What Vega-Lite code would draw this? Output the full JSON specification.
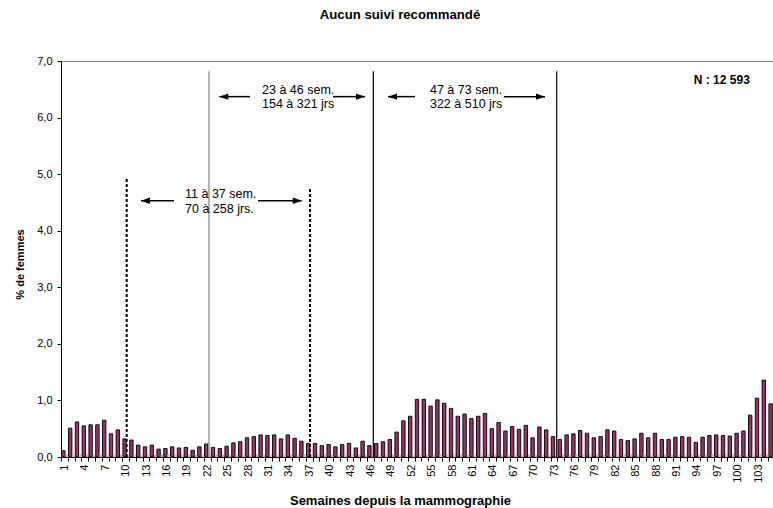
{
  "$schema": "https://vega.github.io/schema/vega-lite/v6.json",
  "width": 714,
  "height": 396,
  "autosize": "none",
  "padding": {"left": 61, "top": 61, "right": 0, "bottom": 51},
  "background": "white",
  "view": {"stroke": "#808080", "strokeWidth": 1},
  "config": {"font": "Liberation Sans"},
  "title": {"text": "Aucun suivi recommandé", "fontSize": 13.2, "fontWeight": "bold", "font": "Liberation Sans", "color": "black", "baseline": "middle", "offset": 27, "dx": -18, "anchor": "middle"},
  "datasets": {
    "bars": [
      {"x":1,"y":0.11},{"x":2,"y":0.51},{"x":3,"y":0.62},{"x":4,"y":0.55},{"x":5,"y":0.57},
      {"x":6,"y":0.57},{"x":7,"y":0.65},{"x":8,"y":0.41},{"x":9,"y":0.48},{"x":10,"y":0.32},
      {"x":11,"y":0.30},{"x":12,"y":0.21},{"x":13,"y":0.18},{"x":14,"y":0.21},{"x":15,"y":0.14},
      {"x":16,"y":0.15},{"x":17,"y":0.18},{"x":18,"y":0.16},{"x":19,"y":0.17},{"x":20,"y":0.12},
      {"x":21,"y":0.18},{"x":22,"y":0.23},{"x":23,"y":0.17},{"x":24,"y":0.15},{"x":25,"y":0.19},
      {"x":26,"y":0.25},{"x":27,"y":0.27},{"x":28,"y":0.34},{"x":29,"y":0.36},{"x":30,"y":0.39},
      {"x":31,"y":0.38},{"x":32,"y":0.39},{"x":33,"y":0.32},{"x":34,"y":0.39},{"x":35,"y":0.33},
      {"x":36,"y":0.28},{"x":37,"y":0.24},{"x":38,"y":0.24},{"x":39,"y":0.20},{"x":40,"y":0.22},
      {"x":41,"y":0.18},{"x":42,"y":0.22},{"x":43,"y":0.24},{"x":44,"y":0.16},{"x":45,"y":0.28},
      {"x":46,"y":0.20},{"x":47,"y":0.24},{"x":48,"y":0.27},{"x":49,"y":0.31},{"x":50,"y":0.44},
      {"x":51,"y":0.64},{"x":52,"y":0.72},{"x":53,"y":1.02},{"x":54,"y":1.02},{"x":55,"y":0.90},
      {"x":56,"y":1.01},{"x":57,"y":0.95},{"x":58,"y":0.86},{"x":59,"y":0.72},{"x":60,"y":0.76},
      {"x":61,"y":0.68},{"x":62,"y":0.72},{"x":63,"y":0.77},{"x":64,"y":0.50},{"x":65,"y":0.61},
      {"x":66,"y":0.46},{"x":67,"y":0.54},{"x":68,"y":0.49},{"x":69,"y":0.56},{"x":70,"y":0.34},
      {"x":71,"y":0.53},{"x":72,"y":0.48},{"x":73,"y":0.36},{"x":74,"y":0.31},{"x":75,"y":0.39},
      {"x":76,"y":0.41},{"x":77,"y":0.47},{"x":78,"y":0.42},{"x":79,"y":0.34},{"x":80,"y":0.36},
      {"x":81,"y":0.48},{"x":82,"y":0.46},{"x":83,"y":0.31},{"x":84,"y":0.29},{"x":85,"y":0.32},
      {"x":86,"y":0.42},{"x":87,"y":0.34},{"x":88,"y":0.42},{"x":89,"y":0.31},{"x":90,"y":0.31},
      {"x":91,"y":0.35},{"x":92,"y":0.36},{"x":93,"y":0.35},{"x":94,"y":0.26},{"x":95,"y":0.35},
      {"x":96,"y":0.38},{"x":97,"y":0.39},{"x":98,"y":0.38},{"x":99,"y":0.37},{"x":100,"y":0.42},
      {"x":101,"y":0.46},{"x":102,"y":0.74},{"x":103,"y":1.04},{"x":104,"y":1.36},{"x":105,"y":0.94}
    ],
    "gray": [
      {"x":1,"y":0.05},{"x":2,"y":0.05},{"x":3,"y":0.05},{"x":4,"y":0.05},{"x":5,"y":0.05},{"x":6,"y":0.05},{"x":7,"y":0.05},{"x":8,"y":0.05},{"x":9,"y":0.05},{"x":10,"y":0.05},
      {"x":11,"y":0.05},{"x":12,"y":0.05},{"x":13,"y":0.05},{"x":14,"y":0.05},{"x":15,"y":0.05},{"x":16,"y":0.05},{"x":17,"y":0.05},{"x":18,"y":0.05},{"x":19,"y":0.05},{"x":20,"y":0.05},
      {"x":21,"y":0.05},{"x":22,"y":0.05},{"x":23,"y":0.05},{"x":24,"y":0.05},{"x":25,"y":0.05},{"x":26,"y":0.05},{"x":27,"y":0.05},{"x":28,"y":0.05},{"x":29,"y":0.05},{"x":30,"y":0.05},
      {"x":31,"y":0.05},{"x":32,"y":0.05},{"x":33,"y":0.05},{"x":34,"y":0.05},{"x":35,"y":0.05},{"x":36,"y":0.05},{"x":37,"y":0.05},{"x":38,"y":0.05},{"x":39,"y":0.05},{"x":40,"y":0.05},
      {"x":41,"y":0.05},{"x":42,"y":0.05},{"x":43,"y":0.05},{"x":44,"y":0.05},{"x":45,"y":0.05},{"x":46,"y":0.05},{"x":47,"y":0.05},{"x":48,"y":0.05},{"x":49,"y":0.05},{"x":50,"y":0.05},
      {"x":51,"y":0.05},{"x":52,"y":0.05},{"x":53,"y":0.05},{"x":54,"y":0.05},{"x":55,"y":0.05},{"x":56,"y":0.05},{"x":57,"y":0.05},{"x":58,"y":0.05},{"x":59,"y":0.05},{"x":60,"y":0.05},
      {"x":61,"y":0.05},{"x":62,"y":0.05},{"x":63,"y":0.05},{"x":64,"y":0.05},{"x":65,"y":0.05},{"x":66,"y":0.05},{"x":67,"y":0.05},{"x":68,"y":0.05},{"x":69,"y":0.05},{"x":70,"y":0.05},
      {"x":71,"y":0.05},{"x":72,"y":0.05},{"x":73,"y":0.05},{"x":74,"y":0.05},{"x":75,"y":0.05},{"x":76,"y":0.05},{"x":77,"y":0.05},{"x":78,"y":0.05},{"x":79,"y":0.05},{"x":80,"y":0.05},
      {"x":81,"y":0.05},{"x":82,"y":0.05},{"x":83,"y":0.05},{"x":84,"y":0.05},{"x":85,"y":0.05},{"x":86,"y":0.05},{"x":87,"y":0.05},{"x":88,"y":0.05},{"x":89,"y":0.05},{"x":90,"y":0.05},
      {"x":91,"y":0.05},{"x":92,"y":0.05},{"x":93,"y":0.05},{"x":94,"y":0.05},{"x":95,"y":0.05},{"x":96,"y":0.05},{"x":97,"y":0.05},{"x":98,"y":0.05},{"x":99,"y":0.05},{"x":100,"y":0.05},
      {"x":101,"y":0.05},{"x":102,"y":0.05},{"x":103,"y":0.05},{"x":104,"y":0.05},{"x":105,"y":0.05}
    ],
    "dashed": [
      {"x": 10.16, "y": 0, "y2": 4.95},
      {"x": 37.12, "y": 0, "y2": 4.75}
    ],
    "solid": [
      {"x": 22.26, "y": 0, "y2": 6.82, "c": "#808080"},
      {"x": 46.43, "y": 0, "y2": 6.82, "c": "#000000"},
      {"x": 73.40, "y": 0, "y2": 6.82, "c": "#000000"}
    ],
    "arrows": [
      {"x": 12.26, "x2": 17.12, "y": 4.53},
      {"x": 29.47, "x2": 35.9, "y": 4.53},
      {"x": 23.78, "x2": 28.29, "y": 6.37},
      {"x": 40.5, "x2": 45.2, "y": 6.37},
      {"x": 48.59, "x2": 52.56, "y": 6.37},
      {"x": 65.65, "x2": 71.68, "y": 6.37}
    ],
    "headsLeft": [
      {"x": 12.26, "y": 4.53},
      {"x": 23.78, "y": 6.37},
      {"x": 48.59, "y": 6.37}
    ],
    "headsRight": [
      {"x": 35.9, "y": 4.53},
      {"x": 45.2, "y": 6.37},
      {"x": 71.68, "y": 6.37}
    ],
    "labels": [
      {"x": 18.74, "y": 4.65, "t": "11 à 37 sem."},
      {"x": 18.74, "y": 4.38, "t": "70 à 258 jrs."},
      {"x": 30.06, "y": 6.49, "t": "23 à 46 sem."},
      {"x": 30.06, "y": 6.24, "t": "154 à 321 jrs"},
      {"x": 54.76, "y": 6.49, "t": "47 à 73 sem."},
      {"x": 54.76, "y": 6.24, "t": "322 à 510 jrs"}
    ],
    "note": [
      {"x": 101.8, "y": 6.66, "t": "N : 12 593"}
    ]
  },
  "encoding": {
    "x": {
      "field": "x", "type": "quantitative",
      "scale": {"domain": [0.5, 105.5], "nice": false, "zero": false, "padding": 0},
      "axis": {
        "title": "Semaines depuis la mammographie",
        "titleFont": "Liberation Sans", "titleFontSize": 13, "titleFontWeight": "bold", "titleColor": "black",
        "titleX": 339, "titleY": 43, "titleBaseline": "middle", "titleAnchor": "middle",
        "values": [1,2,3,4,5,6,7,8,9,10,11,12,13,14,15,16,17,18,19,20,21,22,23,24,25,26,27,28,29,30,31,32,33,34,35,36,37,38,39,40,41,42,43,44,45,46,47,48,49,50,51,52,53,54,55,56,57,58,59,60,61,62,63,64,65,66,67,68,69,70,71,72,73,74,75,76,77,78,79,80,81,82,83,84,85,86,87,88,89,90,91,92,93,94,95,96,97,98,99,100,101,102,103,104,105],
        "labelExpr": "(datum.value - 1) % 3 == 0 ? datum.label : ''",
        "labelAngle": -90, "labelFontSize": 11, "labelColor": "black", "labelPadding": 3,
        "labelOverlap": false, "labelFlush": false,
        "tickOffset": -3.4, "labelOffset": 3.4,
        "tickSize": 4, "tickColor": "black", "domainColor": "black", "grid": false
      }
    },
    "y": {
      "field": "y", "type": "quantitative",
      "scale": {"domain": [0, 7], "nice": false, "zero": true},
      "axis": {
        "title": "% de femmes",
        "titleFont": "Liberation Sans", "titleFontSize": 11, "titleFontWeight": "bold", "titleColor": "black",
        "titleX": -41, "titleY": 203, "titleBaseline": "middle", "titleAngle": -90,
        "values": [0,1,2,3,4,5,6,7],
        "labelExpr": "replace(format(datum.value, '.1f'), '.', ',')",
        "labelFontSize": 11, "labelColor": "black", "labelPadding": 5,
        "tickSize": 4, "tickColor": "black", "domainColor": "black", "grid": false
      }
    }
  },
  "layer": [
    {
      "data": {"name": "bars"},
      "mark": {"type": "bar", "width": 3.4, "xOffset": -1, "fill": "#993366", "stroke": "#000000", "strokeWidth": 0.9}
    },
    {
      "data": {"name": "gray"},
      "mark": {"type": "bar", "width": 2, "xOffset": 2.2, "color": "#c0c0c0"}
    },
    {
      "data": {"name": "dashed"},
      "mark": {"type": "rule", "strokeDash": [3, 2], "strokeWidth": 2, "color": "black"},
      "encoding": {"y2": {"field": "y2"}}
    },
    {
      "data": {"name": "solid"},
      "mark": {"type": "rule", "strokeWidth": 1.2},
      "encoding": {
        "y2": {"field": "y2"},
        "color": {"field": "c", "type": "nominal", "scale": null, "legend": null}
      }
    },
    {
      "data": {"name": "arrows"},
      "mark": {"type": "rule", "strokeWidth": 1.5, "color": "black"},
      "encoding": {"x2": {"field": "x2"}}
    },
    {
      "data": {"name": "headsLeft"},
      "mark": {"type": "point", "shape": "M 1 -0.35 L 0 0 L 1 0.35 Z", "size": 324, "filled": true, "color": "black", "opacity": 1},
      "encoding": {}
    },
    {
      "data": {"name": "headsRight"},
      "mark": {"type": "point", "shape": "M -1 -0.35 L 0 0 L -1 0.35 Z", "size": 324, "filled": true, "color": "black", "opacity": 1},
      "encoding": {}
    },
    {
      "data": {"name": "labels"},
      "mark": {"type": "text", "align": "left", "baseline": "middle", "fontSize": 12.5, "font": "Liberation Sans", "color": "black"},
      "encoding": {"text": {"field": "t", "type": "nominal"}}
    },
    {
      "data": {"name": "note"},
      "mark": {"type": "text", "align": "right", "baseline": "middle", "fontSize": 12, "fontWeight": "bold", "font": "Liberation Sans", "color": "black"},
      "encoding": {"text": {"field": "t", "type": "nominal"}}
    }
  ]
}
